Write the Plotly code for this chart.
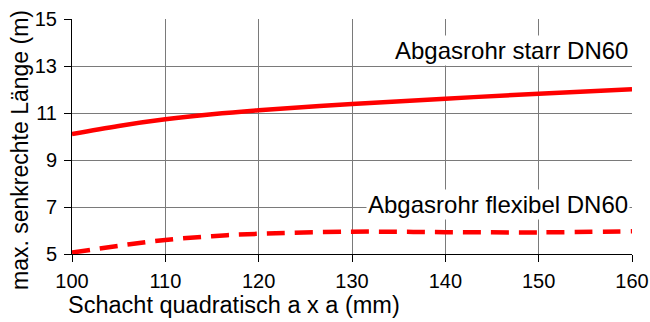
import plotly.graph_objects as go

# Schachtmaß (mm) und max. senkrechte Länge (m)
SCHACHT = [100, 105, 110, 115, 120, 130, 140, 150, 160]
STARR_DN60 = [10.10, 10.45, 10.73, 10.95, 11.12, 11.38, 11.61, 11.82, 12.01]
FLEXIBEL_DN60 = [5.06, 5.35, 5.60, 5.76, 5.86, 5.95, 5.93, 5.92, 5.97]

X_TICKS = [100, 110, 120, 130, 140, 150, 160]
Y_TICKS = [5, 7, 9, 11, 13, 15]

ROT = "#ff0000"
FONT = "Liberation Sans, Arial, sans-serif"

# Plotfläche in Pixeln (für Titelpositionen)
L, R, T, B = 72, 18, 19, 68
PW, PH = 650 - L - R, 322 - T - B

fig = go.Figure()
fig.add_trace(go.Scatter(
    x=SCHACHT, y=STARR_DN60, mode="lines", line_shape="spline",
    line=dict(color=ROT, width=4.5), showlegend=False,
))
fig.add_trace(go.Scatter(
    x=SCHACHT, y=FLEXIBEL_DN60, mode="lines", line_shape="spline",
    line=dict(color=ROT, width=4.5, dash="18px,10px"), showlegend=False,
))

fig.add_annotation(x=159.8, y=13.66, xref="x", yref="y", text="Abgasrohr starr DN60",
                   showarrow=False, xanchor="right", yanchor="middle",
                   bgcolor="white", font=dict(size=24, color="black"))
fig.add_annotation(x=159.8, y=7.12, xref="x", yref="y", text="Abgasrohr flexibel DN60",
                   showarrow=False, xanchor="right", yanchor="middle",
                   bgcolor="white", font=dict(size=24, color="black"))

fig.add_annotation(x=(66 - L) / PW, y=(322 - B - 305) / PH, xref="paper", yref="paper",
                   text="Schacht quadratisch a x a (mm)",
                   showarrow=False, xanchor="left", yanchor="middle",
                   font=dict(size=23.5, color="black"))
fig.add_annotation(x=(20 - L) / PW, y=(322 - B - 150) / PH, xref="paper", yref="paper",
                   text="max. senkrechte Länge (m)", textangle=-90,
                   showarrow=False, xanchor="center", yanchor="middle",
                   font=dict(size=23, color="black"))

fig.update_layout(
    width=650, height=322,
    margin=dict(l=L, r=R, t=T, b=B),
    paper_bgcolor="white", plot_bgcolor="white",
    font=dict(family=FONT, size=20, color="black"),
)
axis_style = dict(
    showgrid=True, gridcolor="#7a7a7a", gridwidth=1,
    showline=True, linecolor="black", linewidth=1, ticks="outside", ticklen=7,
    tickcolor="black", zeroline=False, automargin=False,
)
fig.update_xaxes(range=[100, 160], tickvals=X_TICKS, ticklabelstandoff=2, **axis_style)
fig.update_yaxes(range=[5, 15], tickvals=Y_TICKS, ticklabelstandoff=3, **axis_style)

# Seitenrand entfernen, damit die Grafik bündig im Fenster sitzt
fig.write_html("out.html", config={"displayModeBar": False},
               post_script="document.body.style.margin='0';")
